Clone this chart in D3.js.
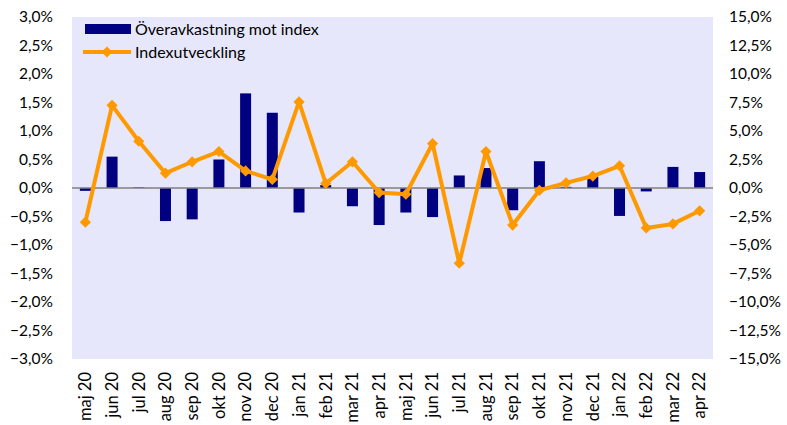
<!DOCTYPE html>
<html>
<head>
<meta charset="utf-8">
<script src="https://cdn.jsdelivr.net/npm/d3@7"></script>
<style>
  body { margin: 0; background: #fff; }
  text { font-family: Lato, "Open Sans", sans-serif; fill: #000; }
</style>
</head>
<body>
<div id="chart"></div>
<script>
// data
var months = ["maj 20","jun 20","jul 20","aug 20","sep 20","okt 20","nov 20","dec 20",
  "jan 21","feb 21","mar 21","apr 21","maj 21","jun 21","jul 21","aug 21","sep 21","okt 21",
  "nov 21","dec 21","jan 22","feb 22","mar 22","apr 22"];
var excess = [-0.05, 0.55, 0.01, -0.58, -0.55, 0.50, 1.66, 1.32,
  -0.43, 0.05, -0.32, -0.65, -0.43, -0.51, 0.22, 0.35, -0.39, 0.47,
  0.02, 0.20, -0.49, -0.06, 0.37, 0.28];
var indexDev = [-3.0, 7.25, 4.1, 1.3, 2.3, 3.2, 1.5, 0.75,
  7.55, 0.4, 2.3, -0.4, -0.55, 3.9, -6.6, 3.2, -3.25, -0.2,
  0.45, 1.05, 1.95, -3.5, -3.15, -2.0];
var leftTicks = [-3,-2.5,-2,-1.5,-1,-0.5,0,0.5,1,1.5,2,2.5,3];
var rightTicks = [-15,-12.5,-10,-7.5,-5,-2.5,0,2.5,5,7.5,10,12.5,15];
var legendLabels = ["Överavkastning mot index", "Indexutveckling"];

var margin = {top: 17, right: 74, bottom: 66, left: 72},
    width = 787 - margin.left - margin.right,
    height = 425 - margin.top - margin.bottom;

var svg = d3.select("#chart")
  .append("svg")
  .attr("width", 787)
  .attr("height", 425)
  .append("g")
  .attr("transform", "translate(" + margin.left + "," + margin.top + ")");

var fmt = function(d) { return d3.format(".1f")(d).replace(".", ",") + "%"; };

var x = d3.scaleBand().domain(months).range([0, width]);
var y = d3.scaleLinear().domain([-3, 3]).range([height, 0]);
var y2 = d3.scaleLinear().domain([-15, 15]).range([height, 0]);

// plot background
svg.append("rect")
  .attr("width", width)
  .attr("height", height)
  .attr("fill", "#e6e7fa");

// bars
var barW = 11;
svg.selectAll(".bar")
  .data(excess)
  .enter().append("rect")
  .attr("class", "bar")
  .attr("x", function(d, i) { return x(months[i]) + x.bandwidth() / 2 - barW / 2; })
  .attr("y", function(d) { return y(Math.max(0, d)); })
  .attr("width", barW)
  .attr("height", function(d) { return Math.abs(y(d) - y(0)); })
  .attr("fill", "#000080");

// zero line
svg.append("line")
  .attr("x1", 0).attr("x2", width)
  .attr("y1", y(0)).attr("y2", y(0))
  .attr("stroke", "#7f7f7f")
  .attr("stroke-width", 1.5);

// index line
var cx = function(d, i) { return x(months[i]) + x.bandwidth() / 2; };
svg.append("path")
  .datum(indexDev)
  .attr("fill", "none")
  .attr("stroke", "#ff9900")
  .attr("stroke-width", 4)
  .attr("stroke-linejoin", "round")
  .attr("d", d3.line().x(cx).y(function(d) { return y2(d); }));

var diamond = d3.symbol().type(d3.symbolDiamond2).size(80);
svg.selectAll(".dot")
  .data(indexDev)
  .enter().append("path")
  .attr("class", "dot")
  .attr("d", diamond)
  .attr("transform", function(d, i) { return "translate(" + cx(d, i) + "," + y2(d) + ")"; })
  .attr("fill", "#ff9900");

// left axis
var yAxis = svg.append("g")
  .call(d3.axisLeft(y).tickValues(leftTicks).tickFormat(fmt).tickSize(0).tickPadding(19));
yAxis.select(".domain").remove();
yAxis.selectAll("text").style("font-size", "15.5px").style("font-family", "Lato, sans-serif");

// right axis
var y2Axis = svg.append("g")
  .attr("transform", "translate(" + width + ",0)")
  .call(d3.axisRight(y2).tickValues(rightTicks).tickFormat(fmt).tickSize(0).tickPadding(16));
y2Axis.select(".domain").remove();
y2Axis.selectAll("text").style("font-size", "15.5px").style("font-family", "Lato, sans-serif");

// x axis, rotated labels
var xAxis = svg.append("g")
  .attr("transform", "translate(0," + height + ")")
  .call(d3.axisBottom(x).tickSize(0));
xAxis.select(".domain").remove();
xAxis.selectAll("text")
  .style("font-size", "16.5px")
  .style("font-family", "Lato, sans-serif")
  .attr("transform", "rotate(-90)")
  .attr("text-anchor", "end")
  .attr("dy", "0.35em")
  .attr("x", -13)
  .attr("y", 0);

// legend
var legend = svg.append("g").attr("transform", "translate(13,7)");
legend.append("rect")
  .attr("x", 0).attr("y", 0)
  .attr("width", 46).attr("height", 10)
  .attr("fill", "#000080");
legend.append("text")
  .attr("x", 50).attr("y", 5)
  .attr("dy", "0.35em")
  .style("font-size", "16px")
  .text(legendLabels[0]);
legend.append("line")
  .attr("x1", -2).attr("x2", 46)
  .attr("y1", 28).attr("y2", 28)
  .attr("stroke", "#ff9900")
  .attr("stroke-width", 4);
legend.append("path")
  .attr("d", diamond)
  .attr("transform", "translate(22,28)")
  .attr("fill", "#ff9900");
legend.append("text")
  .attr("x", 50).attr("y", 28)
  .attr("dy", "0.35em")
  .style("font-size", "16px")
  .text(legendLabels[1]);
</script>
</body>
</html>
